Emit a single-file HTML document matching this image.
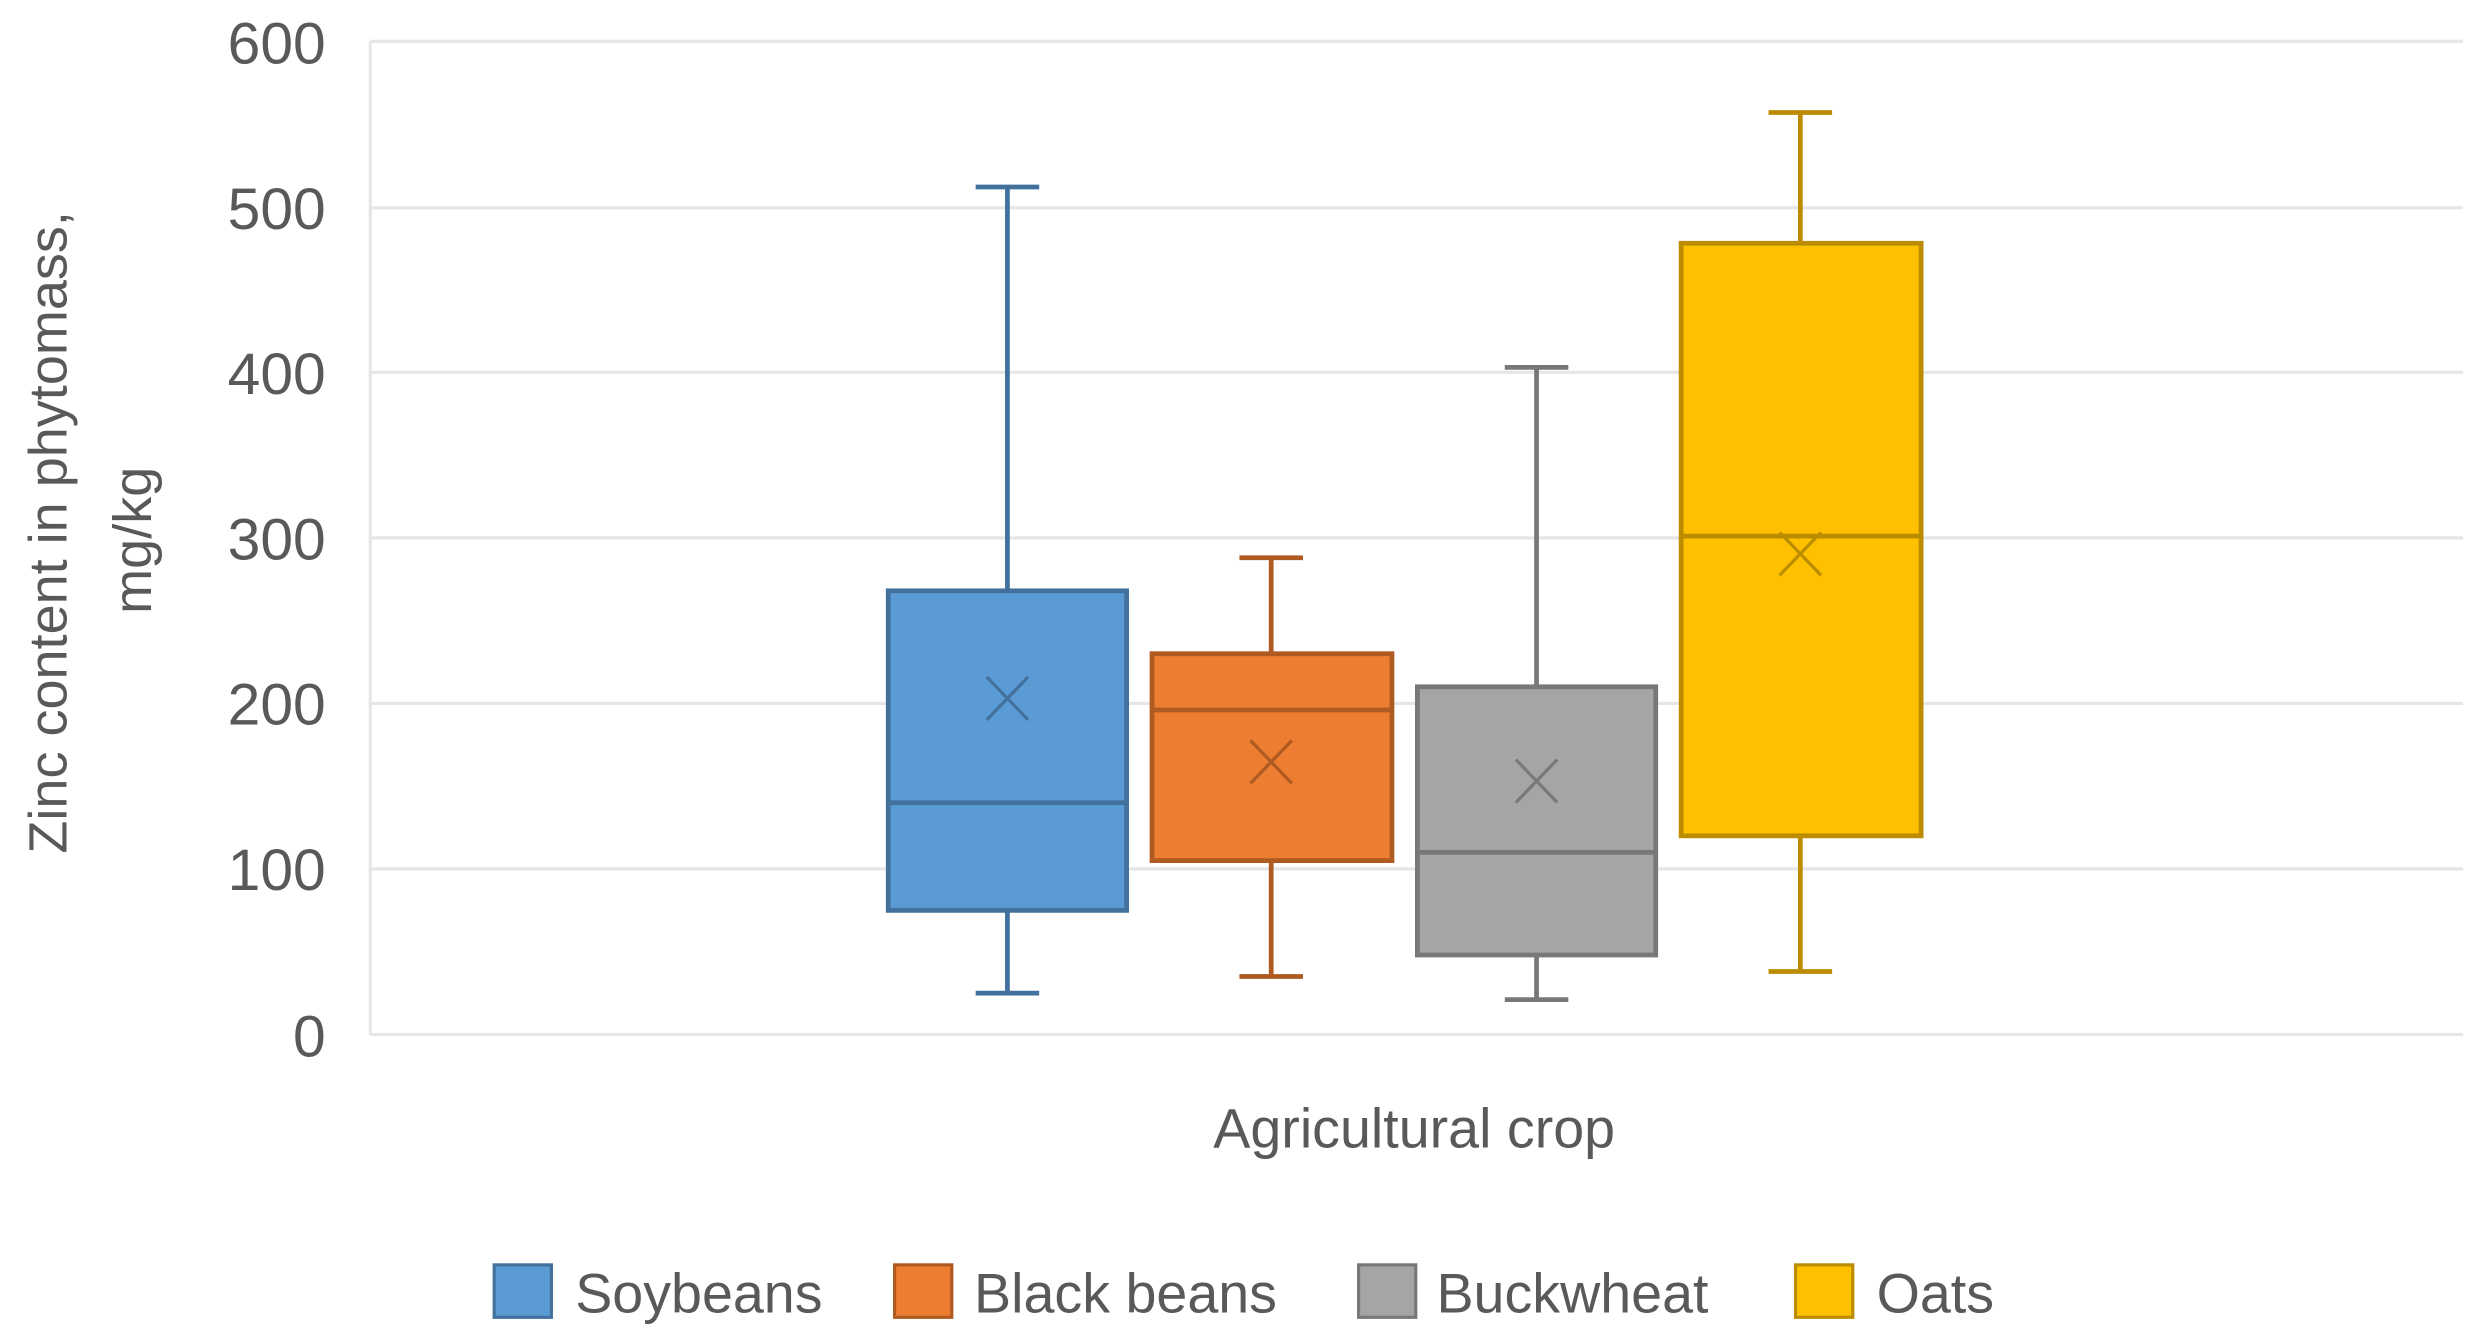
<!DOCTYPE html>
<html><head><style>html,body{margin:0;padding:0;background:#fff}svg{display:block}</style></head>
<body>
<svg width="2482" height="1334" viewBox="0 0 1562 839.5" preserveAspectRatio="none" xmlns="http://www.w3.org/2000/svg" font-family="Liberation Sans, sans-serif" fill="#595959">
<g stroke="#e6e6e6" stroke-width="2">
<line x1="233" y1="26" x2="1550" y2="26"/>
<line x1="233" y1="130.8" x2="1550" y2="130.8"/>
<line x1="233" y1="234.3" x2="1550" y2="234.3"/>
<line x1="233" y1="338.5" x2="1550" y2="338.5"/>
<line x1="233" y1="442.7" x2="1550" y2="442.7"/>
<line x1="233" y1="546.8" x2="1550" y2="546.8"/>
<line x1="233" y1="651" x2="1550" y2="651"/>
<line x1="233" y1="26" x2="233" y2="651"/>
</g>
<g font-size="37" text-anchor="end">
<text x="205" y="40">600</text>
<text x="205" y="144">500</text>
<text x="205" y="248">400</text>
<text x="205" y="352">300</text>
<text x="205" y="456">200</text>
<text x="205" y="560">100</text>
<text x="205" y="665">0</text>
</g>
<g font-size="34" text-anchor="middle">
<text transform="translate(42,335) rotate(-90)">Zinc content in phytomass,</text>
<text transform="translate(95,340) rotate(-90)">mg/kg</text>
<text x="890" y="722" font-size="35">Agricultural crop</text>
</g>
<g stroke="#41719c" stroke-width="3">
<line x1="634" y1="117.7" x2="634" y2="625"/>
<line x1="614" y1="117.7" x2="654" y2="117.7"/><line x1="614" y1="625" x2="654" y2="625"/>
<rect x="559" y="371.8" width="150" height="201.1" fill="#5b9bd5"/>
<line x1="559" y1="505.2" x2="709" y2="505.2"/>
<path d="M621 426 L647 453 M647 426 L621 453" stroke-width="2"/>
</g>
<g stroke="#ae5a21" stroke-width="3">
<line x1="800" y1="351" x2="800" y2="614.5"/>
<line x1="780" y1="351" x2="820" y2="351"/><line x1="780" y1="614.5" x2="820" y2="614.5"/>
<rect x="725" y="411.4" width="151" height="130.2" fill="#ed7d31"/>
<line x1="725" y1="446.8" x2="876" y2="446.8"/>
<path d="M787 466 L813 493 M813 466 L787 493" stroke-width="2"/>
</g>
<g stroke="#787878" stroke-width="3">
<line x1="967" y1="231.2" x2="967" y2="629.1"/>
<line x1="947" y1="231.2" x2="987" y2="231.2"/><line x1="947" y1="629.1" x2="987" y2="629.1"/>
<rect x="892" y="432.2" width="150" height="168.8" fill="#a5a5a5"/>
<line x1="892" y1="536.4" x2="1042" y2="536.4"/>
<path d="M954 478 L980 505 M980 478 L954 505" stroke-width="2"/>
</g>
<g stroke="#bc8c00" stroke-width="3">
<line x1="1133" y1="70.8" x2="1133" y2="611.4"/>
<line x1="1113" y1="70.8" x2="1153" y2="70.8"/><line x1="1113" y1="611.4" x2="1153" y2="611.4"/>
<rect x="1058" y="153.1" width="151" height="372.9" fill="#ffc000"/>
<line x1="1058" y1="337.4" x2="1209" y2="337.4"/>
<path d="M1120 335 L1146 362 M1146 335 L1120 362" stroke-width="2"/>
</g>
<g font-size="35">
<rect x="311" y="796" width="36" height="33" fill="#5b9bd5" stroke="#41719c" stroke-width="2"/>
<text x="362" y="826">Soybeans</text>
<rect x="563" y="796" width="36" height="33" fill="#ed7d31" stroke="#ae5a21" stroke-width="2"/>
<text x="613" y="826">Black beans</text>
<rect x="855" y="796" width="36" height="33" fill="#a5a5a5" stroke="#787878" stroke-width="2"/>
<text x="904" y="826">Buckwheat</text>
<rect x="1130" y="796" width="36" height="33" fill="#ffc000" stroke="#bc8c00" stroke-width="2"/>
<text x="1181" y="826">Oats</text>
</g>
</svg>
</body></html>
